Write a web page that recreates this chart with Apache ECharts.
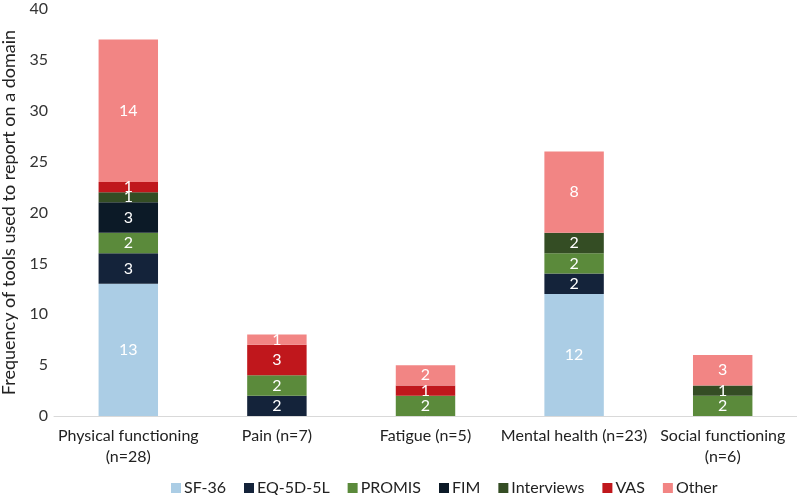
<!DOCTYPE html>
<html><head><meta charset="utf-8">
<script src="https://cdn.jsdelivr.net/npm/echarts@6/dist/echarts.min.js"></script>
<style>html,body{margin:0;padding:0;background:#fff}#c{width:797px;height:495px}</style>
</head><body><div id="c"></div>
<script>
const categories = ['Physical functioning\n(n=28)', 'Pain (n=7)', 'Fatigue (n=5)', 'Mental health (n=23)', 'Social functioning\n(n=6)'];
const yTicks = [0, 5, 10, 15, 20, 25, 30, 35, 40];
const sf36 = [13, null, null, 12, null];
const eq5d = [3, 2, null, 2, null];
const promis = [2, 2, 2, 2, 2];
const fim = [3, null, null, null, null];
const interviews = [1, null, null, 2, 1];
const vas = [1, 3, 1, null, null];
const other = [14, 1, 2, 8, 3];

const seriesDefs = [
  ['SF-36', sf36, '#abcde5'],
  ['EQ-5D-5L', eq5d, '#14233a'],
  ['PROMIS', promis, '#5b8a3b'],
  ['FIM', fim, '#0c1a27'],
  ['Interviews', interviews, '#344d24'],
  ['VAS', vas, '#c0171c'],
  ['Other', other, '#f28584']
];
const font = 'Lato, "Noto Sans", sans-serif';
const chart = echarts.init(document.getElementById('c'));
chart.setOption({
  animation: false,
  textStyle: {fontFamily: font},
  grid: {left: 54, right: 0, top: 9, bottom: 79, outerBoundsMode: 'none', containLabel: false},
  legend: {
    top: 475, left: 166, itemWidth: 10, itemHeight: 10, itemGap: 18,
    icon: 'rect',
    textStyle: {fontSize: 16, color: '#222', fontFamily: font, padding: [0, 0, 0, -2]}
  },
  xAxis: {
    type: 'category', data: categories,
    axisLine: {lineStyle: {color: '#d9d9d9', width: 1}},
    axisTick: {show: false},
    axisLabel: {fontSize: 16, color: '#222', interval: 0, lineHeight: 21, margin: 9}
  },
  yAxis: {
    type: 'value', min: 0, max: 40, interval: 5,
    name: 'Frequency of tools used to report on a domain',
    nameLocation: 'middle', nameGap: 35, nameRotate: 90,
    nameTextStyle: {fontSize: 18, color: '#222'},
    axisLine: {show: false}, axisTick: {show: false},
    splitLine: {show: false},
    axisLabel: {fontSize: 16, color: '#333', margin: 6,
      formatter: v => yTicks.includes(v) ? String(v) : ''}
  },
  series: seriesDefs.map(([name, data, color]) => ({
    name, type: 'bar', stack: 'total', data,
    barWidth: '40%',
    itemStyle: {color},
    label: {show: true, position: 'inside', color: '#fff', fontSize: 16, fontFamily: font,
      formatter: p => p.value == null ? '' : String(p.value)}
  }))
});
</script></body></html>
